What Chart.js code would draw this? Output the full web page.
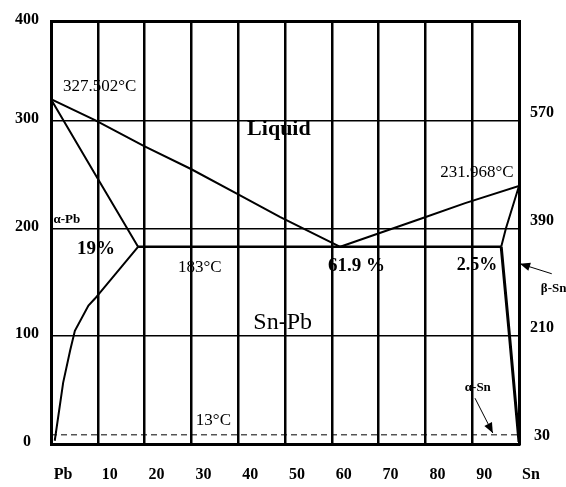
<!DOCTYPE html>
<html>
<head>
<meta charset="utf-8">
<script src="https://cdn.jsdelivr.net/npm/chart.js@4.4.0/dist/chart.umd.min.js"></script>
<style>
  html, body { margin: 0; padding: 0; background: #fff; }
  canvas { display: block; }
</style>
</head>
<body>
<canvas id="chart" width="566" height="487"></canvas>
<script>
// composition (% Sn) and temperature (°C) ticks
const xTicks = [0, 10, 20, 30, 40, 50, 60, 70, 80, 90, 100];
const xLabels = ['Pb', '10', '20', '30', '40', '50', '60', '70', '80', '90', 'Sn'];
const yTop = 392; // top of the frame, labelled 400 in the picture
const yTicks = [0, 100, 200, 300, yTop];
const leftLabels = ['0', '100', '200', '300', '400'];
const rightLabels = ['30', '210', '390', '570', ''];

// phase boundaries, [x, y]
const liquidusPb = [[0, 320], [9.4, 300.5], [19.9, 276.4], [29.9, 255.2], [39.9, 232], [48.9, 210.8], [61.8, 183]];
const liquidusSn = [[61.8, 183], [79, 209], [88.5, 223.5], [100, 239.5]];
const solidusPb = [[0, 320], [9.4, 250.5], [18.6, 183]];
const solvusPb = [[18.6, 183], [9.4, 135], [8, 128.5], [5.1, 105], [4.1, 87], [2.6, 57], [0.8, 3]];
const eutectic = [[18.6, 183], [96.2, 183]];
const solidusSn = [[96.2, 183], [97.2, 200], [100, 239.5]];
const solvusSn = [[96.2, 183], [98, 99], [100, 2]];
const tinTransition = [[0, 8.5], [100, 8.5]];

const serif = '"Liberation Serif", "Times New Roman", serif';

const notes = [
  { text: '327.502°C', x: 10.4, y: 332, font: '17px ' + serif },
  { text: 'Liquid', x: 48.7, y: 292, font: 'bold 22px ' + serif },
  { text: 'Sn-Pb', x: 49.5, y: 113, font: '24px ' + serif },
  { text: '231.968°C', x: 91, y: 251.5, font: '17px ' + serif },
  { text: 'α-Pb', x: 3.4, y: 208, font: 'bold 13px ' + serif },
  { text: '19%', x: 9.6, y: 181, font: 'bold 19px ' + serif },
  { text: '183°C', x: 31.8, y: 163.6, font: '17px ' + serif },
  { text: '61.9 %', x: 65.3, y: 165.5, font: 'bold 19px ' + serif },
  { text: '2.5%', x: 91, y: 165.5, font: 'bold 18px ' + serif },
  { text: 'β-Sn', x: 107.4, y: 144, font: 'bold 13px ' + serif },
  { text: 'α-Sn', x: 91.2, y: 52.7, font: 'bold 13px ' + serif },
  { text: '13°C', x: 34.7, y: 22, font: '17px ' + serif },
];
const arrows = [
  { from: [107, 158], to: [100.2, 167.3] },
  { from: [90.6, 42.5], to: [94.4, 10.2] },
];

const line = (pts, width, dash) => ({
  data: pts.map(([x, y]) => ({ x, y })),
  borderColor: '#000',
  borderWidth: width,
  borderDash: dash || [],
  pointRadius: 0,
  showLine: true,
  fill: false,
  tension: 0,
});

const notesPlugin = {
  id: 'notes',
  afterDraw(chart) {
    const { ctx, scales: { x, y } } = chart;
    ctx.save();
    ctx.fillStyle = '#000';
    ctx.strokeStyle = '#000';
    ctx.textAlign = 'center';
    ctx.textBaseline = 'middle';
    notes.forEach(n => {
      ctx.font = n.font;
      ctx.fillText(n.text, x.getPixelForValue(n.x), y.getPixelForValue(n.y));
    });
    arrows.forEach(a => {
      const x1 = x.getPixelForValue(a.from[0]), y1 = y.getPixelForValue(a.from[1]);
      const x2 = x.getPixelForValue(a.to[0]), y2 = y.getPixelForValue(a.to[1]);
      const ang = Math.atan2(y2 - y1, x2 - x1);
      ctx.lineWidth = 1;
      ctx.beginPath();
      ctx.moveTo(x1, y1);
      ctx.lineTo(x2, y2);
      ctx.stroke();
      ctx.beginPath();
      ctx.moveTo(x2, y2);
      ctx.lineTo(x2 - 11 * Math.cos(ang - 0.4), y2 - 11 * Math.sin(ang - 0.4));
      ctx.lineTo(x2 - 11 * Math.cos(ang + 0.4), y2 - 11 * Math.sin(ang + 0.4));
      ctx.closePath();
      ctx.fill();
    });
    ctx.restore();
  },
};

const tickFont = { family: serif, weight: 'bold', size: 16 };

new Chart(document.getElementById('chart'), {
  type: 'scatter',
  data: {
    datasets: [
      line(liquidusPb, 2),
      line(liquidusSn, 2),
      line(solidusPb, 2),
      line(solvusPb, 2),
      line(eutectic, 2.5),
      line(solidusSn, 2),
      line(solvusSn, 3),
      line(tinTransition, 1, [6, 4]),
    ],
  },
  options: {
    responsive: false,
    animation: false,
    layout: { padding: { top: 20, left: 0, right: 0, bottom: 0 } },
    plugins: { legend: { display: false }, tooltip: { enabled: false } },
    scales: {
      x: {
        type: 'linear',
        min: 0,
        max: 100,
        afterBuildTicks: s => { s.ticks = xTicks.map(v => ({ value: v })); },
        afterFit: s => { s.height = 43; },
        ticks: {
          color: '#000',
          font: tickFont,
          padding: 21,
          labelOffset: 12,
          maxRotation: 0,
          autoSkip: false,
          callback: (v, i) => xLabels[i],
        },
        grid: { color: '#000', lineWidth: 2.5, drawTicks: false },
        border: { color: '#000', width: 3 },
      },
      y: {
        type: 'linear',
        position: 'left',
        min: 0,
        max: yTop,
        afterBuildTicks: s => { s.ticks = yTicks.map(v => ({ value: v })); },
        afterFit: s => { s.width = 51; },
        ticks: {
          color: '#000',
          font: tickFont,
          padding: 12,
          crossAlign: 'center',
          labelOffset: -2,
          autoSkip: false,
          callback: (v, i) => leftLabels[i],
        },
        grid: {
          color: '#000',
          lineWidth: c => (c.tick && c.tick.value === yTop ? 3 : 1.5),
          drawTicks: false,
        },
        border: { color: '#000', width: 3 },
      },
      y2: {
        type: 'linear',
        position: 'right',
        min: 0,
        max: yTop,
        afterBuildTicks: s => { s.ticks = yTicks.map(v => ({ value: v })); },
        afterFit: s => { s.width = 47; },
        ticks: {
          color: '#000',
          font: tickFont,
          padding: 11,
          crossAlign: 'center',
          labelOffset: -8,
          autoSkip: false,
          callback: (v, i) => rightLabels[i],
        },
        grid: { display: false, drawTicks: false },
        border: { color: '#000', width: 3 },
      },
    },
  },
  plugins: [notesPlugin],
});
</script>
</body>
</html>
